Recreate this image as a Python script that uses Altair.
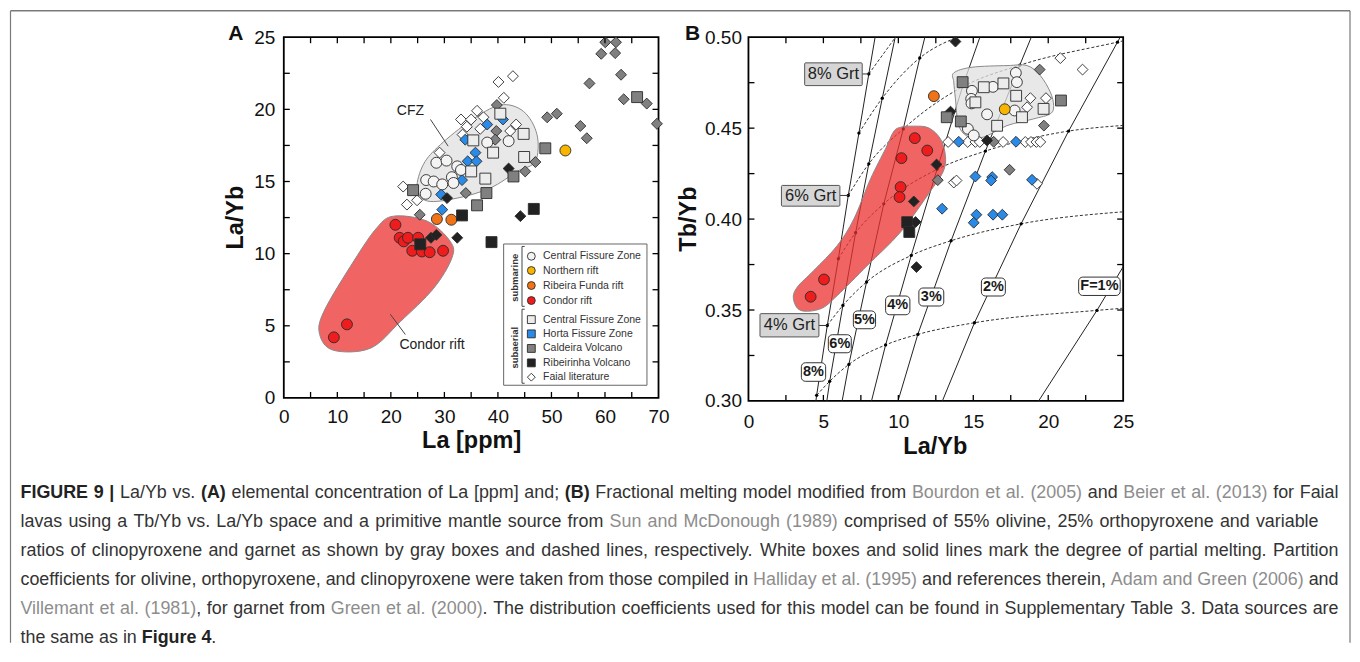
import altair as alt
import pandas as pd

FONT = "Liberation Sans"
INK = "#111111"

A_W, A_H = 375, 361
B_W, B_H = 375, 364

# ---------------- axes / ticks ----------------
A_X_LABELS = [0, 10, 20, 30, 40, 50, 60, 70]
A_X_TICKS = [5, 10, 15, 20, 25, 30, 35, 40, 45, 50, 55, 60, 65]
A_Y_LABELS = [0, 5, 10, 15, 20, 25]
A_Y_TICKS = [2.5, 5, 7.5, 10, 12.5, 15, 17.5, 20, 22.5]
B_X_LABELS = [0, 5, 10, 15, 20, 25]
B_X_TICKS = [2.5, 5, 7.5, 10, 12.5, 15, 17.5, 20, 22.5]
B_Y_LABELS = [0.30, 0.35, 0.40, 0.45, 0.50]
B_Y_TICKS = [0.325, 0.35, 0.375, 0.40, 0.425, 0.45, 0.475]

# ---------------- series styling ----------------
SERIES = ["Central Fissure Zone", "Northern rift", "Ribeira Funda rift", "Condor rift",
          "Central Fissure Zone ", "Horta Fissure Zone", "Caldeira Volcano", "Ribeirinha Volcano",
          "Faial literature", "lit gray", "lit blue", "lit black"]
FILLS = ["#f4f4f4", "#f7b500", "#f07318", "#ee1c1c",
         "#ececec", "#2a8ae8", "#808080", "#222222",
         "#ffffff", "#808080", "#2a8ae8", "#222222"]
SHAPES = ["circle", "circle", "circle", "circle",
          "square", "square", "square", "square",
          "diamond", "diamond", "diamond", "diamond"]
SIZES_A = [120, 120, 120, 120, 160, 160, 160, 160, 75, 75, 75, 75]
SIZES_B = [118, 118, 118, 118, 150, 150, 150, 150, 80, 80, 80, 80]
LEGEND_SERIES = SERIES[:9]
LEGEND_LABELS = ["Central Fissure Zone", "Northern rift", "Ribeira Funda rift", "Condor rift",
                 "Central Fissure Zone", "Horta Fissure Zone", "Caldeira Volcano", "Ribeirinha Volcano",
                 "Faial literature"]
LEGEND_ROW_Y = [9.82, 8.83, 7.79, 6.75, 5.43, 4.44, 3.43, 2.43, 1.44]   # in La/Yb units
LEGEND_SYMBOL_X = 46.24
LEGEND_LABEL_X = 48.42

# ---------------- Panel A data (La ppm, La/Yb) ----------------
A_FAIAL_LIT = [(40.1, 21.9), (42.8, 22.3), (41.1, 20.8), (36.1, 19.9), (33.1, 19.3), (35.0, 19.3),
               (37.3, 19.45), (34.2, 18.8), (36.7, 18.65), (33.4, 18.25), (43.4, 18.95), (42.3, 18.5),
               (29.1, 17.0), (22.3, 14.65), (23.0, 13.4), (24.9, 13.7)]
A_CALDEIRA_LIT = [(60.05, 24.65), (62.05, 24.65), (59.3, 23.85), (61.9, 23.9), (63.0, 22.4),
                  (57.1, 21.8), (63.5, 20.7), (67.8, 20.4), (69.7, 19.0), (49.2, 19.45), (51.0, 19.7),
                  (55.4, 18.85), (56.6, 18.0), (47.0, 16.35), (45.1, 15.7), (39.7, 18.5), (39.5, 17.9),
                  (39.8, 20.3), (34.0, 14.2), (25.4, 12.7)]
A_HORTA_LIT = [(38.0, 18.95), (40.95, 19.3), (33.9, 17.9), (35.8, 17.0), (34.35, 16.4), (36.0, 16.4),
               (33.3, 15.1), (29.4, 14.1), (29.6, 13.05)]
A_RIB_LIT = [(30.5, 13.85), (44.2, 12.6), (27.5, 11.1), (28.5, 11.3), (32.4, 11.1), (42.0, 15.9)]
A_CFZ_SUB = [(28.5, 16.3), (30.4, 16.45), (31.4, 15.3), (31.7, 14.9), (32.4, 16.05), (33.1, 15.8),
             (26.6, 15.1), (28.0, 15.0), (29.6, 14.8), (26.5, 14.15), (38.0, 17.7), (42.0, 17.8)]
A_NORTH = [(52.6, 17.15)]
A_RIBFUNDA = [(28.6, 12.4), (31.3, 12.35)]
A_CONDOR = [(20.85, 12.0), (21.65, 11.1), (22.4, 10.85), (23.2, 11.1), (24.0, 10.2), (25.1, 11.1),
            (25.8, 10.15), (27.25, 10.1), (29.75, 10.2), (9.35, 4.2), (11.8, 5.1)]
A_CFZ_AER = [(35.4, 17.85), (39.1, 17.0), (44.8, 18.3), (44.9, 16.7), (35.0, 15.7), (37.65, 15.2),
             (40.45, 19.7)]
A_HORTA = []
A_CALDEIRA = [(24.15, 14.4), (48.85, 17.3), (42.9, 15.35), (37.85, 14.2), (36.1, 13.35), (66.0, 20.85)]
A_RIBEIRINHA = [(25.5, 10.65), (33.3, 12.65), (38.8, 10.8), (46.7, 13.1)]

A_CFZ_FIELD = [(40.45, 20.3), (44.8, 19.85), (47.3, 18.25), (47.0, 16.4), (43.6, 15.7), (38.6, 14.55),
               (32.4, 13.85), (26.8, 13.65), (24.9, 14.55), (26.1, 16.2), (29.25, 17.55), (34.85, 19.2)]
A_CONDOR_FIELD = [(20.55, 12.6), (26.8, 12.25), (31.1, 10.85), (31.4, 9.7), (28.0, 7.6), (21.8, 5.3),
                  (16.2, 3.45), (9.3, 3.3), (6.7, 4.4), (7.5, 6.0), (13.1, 9.5), (17.4, 11.8)]
A_NOTES = [("CFZ", 23.65, 19.87), ("Condor rift", 27.7, 3.7)]
A_LEADERS = [(27.4, 19.3, 30.7, 17.45), (19.9, 5.8, 22.7, 4.4)]
A_LEGEND_BOX = (41.07, 0.88, 67.84, 10.67)
A_BRACKETS = [(44.5, 6.35, 10.5), (44.5, 1.02, 6.15)]
A_BRACKET_TEXT = [("submarine", 43.25, 8.33), ("subaerial", 43.25, 3.48)]

# ---------------- Panel B data (La/Yb, Tb/Yb) ----------------
B_FAIAL_LIT = [(20.81, 0.4885), (22.29, 0.4822), (13.32, 0.4424), (14.63, 0.4424), (15.14, 0.4424),
               (15.43, 0.4424), (16.99, 0.4424), (18.47, 0.4424), (18.85, 0.4424), (19.21, 0.4424),
               (19.47, 0.4424), (18.81, 0.4665), (19.85, 0.4665), (18.59, 0.4615), (13.7, 0.4201),
               (13.88, 0.4212), (19.25, 0.4194)]
B_CALDEIRA_LIT = [(19.43, 0.4822), (19.71, 0.4514), (17.42, 0.4271), (12.63, 0.4214), (16.36, 0.4425)]
B_HORTA_LIT = [(14.03, 0.4425), (17.85, 0.4425), (15.14, 0.4234), (16.26, 0.4231), (16.19, 0.4212),
               (18.92, 0.4216), (12.92, 0.4057), (15.21, 0.4024), (15.03, 0.3980), (16.32, 0.4024),
               (16.94, 0.4024)]
B_RIB_LIT = [(13.81, 0.4976), (13.48, 0.4591), (12.55, 0.4300), (11.03, 0.4097), (11.21, 0.3736),
             (11.15, 0.3984), (15.92, 0.4432)]
B_CFZ_SUB = [(17.84, 0.4804), (17.91, 0.4753), (16.31, 0.4727), (14.91, 0.4705), (14.86, 0.4661),
             (14.88, 0.4636), (15.92, 0.4576), (17.76, 0.4597), (14.64, 0.4496), (15.03, 0.4460)]
B_NORTH = [(17.1, 0.4604)]
B_RIBFUNDA = [(12.37, 0.4676)]
B_CONDOR = [(11.1, 0.4445), (11.93, 0.4377), (10.21, 0.4335), (10.15, 0.4176), (10.08, 0.4121),
            (5.04, 0.3668), (4.15, 0.3573)]
B_CFZ_AER = [(15.7, 0.4725), (17.01, 0.4746), (17.86, 0.4678), (18.25, 0.4560), (16.59, 0.4513),
             (19.69, 0.4606), (15.14, 0.4642)]
B_HORTA = []
B_CALDEIRA = [(14.29, 0.4753), (13.23, 0.4560), (14.17, 0.4537), (20.85, 0.4652)]
B_RIBEIRINHA = [(10.59, 0.3983), (10.73, 0.3929)]

B_CFZ_FIELD = [(13.7, 0.4804), (14.92, 0.4835), (17.25, 0.4844), (18.59, 0.4844), (19.47, 0.4789),
               (20.14, 0.4698), (20.36, 0.4624), (20.14, 0.4579), (19.03, 0.4551), (17.25, 0.4514),
               (15.7, 0.4451), (14.7, 0.4451), (14.03, 0.4514), (13.81, 0.4661), (13.7, 0.4753)]
B_CONDOR_FIELD = [(10.15, 0.4505), (11.03, 0.4511), (12.01, 0.4502), (12.81, 0.4441), (13.14, 0.4349),
                  (13.01, 0.4265), (12.15, 0.4155), (10.15, 0.3929), (7.93, 0.3745), (5.93, 0.358),
                  (4.82, 0.3507), (3.48, 0.3498), (3.0, 0.3562), (3.26, 0.3626), (4.37, 0.3718),
                  (5.93, 0.3855), (7.04, 0.4002), (8.15, 0.4222), (9.15, 0.4387), (9.68, 0.448)]

# melting degree lines (solid)
B_MELT_LINES = {
    "8%": [(4.50, 0.300), (4.55, 0.3031), (5.26, 0.3415), (6.00, 0.3782), (6.66, 0.4130), (7.37, 0.4473), (8.03, 0.4798), (8.45, 0.500)],
    "6%": [(5.23, 0.300), (5.42, 0.3108), (6.30, 0.3525), (7.15, 0.3925), (8.03, 0.4304), (8.93, 0.4665), (9.79, 0.500)],
    "5%": [(6.25, 0.300), (6.70, 0.3201), (7.88, 0.3654), (9.03, 0.4084), (10.33, 0.4496), (11.43, 0.4886), (11.77, 0.500)],
    "4%": [(8.21, 0.300), (9.15, 0.3308), (10.86, 0.3800), (12.58, 0.4273), (14.28, 0.4727), (15.44, 0.500)],
    "3%": [(9.98, 0.300), (11.30, 0.3366), (13.52, 0.3881), (15.81, 0.4374), (18.10, 0.4846), (18.87, 0.500)],
    "2%": [(12.94, 0.300), (15.08, 0.3430), (18.19, 0.3974), (21.36, 0.4484), (24.62, 0.4973), (24.80, 0.500)],
    "1%": [(19.36, 0.300), (23.25, 0.3498), (25.0, 0.3738)],
}
# garnet-proportion curves (dashed)
B_GRT_CURVES = {
    "g1": [(4.55, 0.3031), (5.42, 0.3108), (6.70, 0.3201), (9.15, 0.3308), (11.30, 0.3366), (15.08, 0.3430), (23.25, 0.3498), (25.0, 0.3510)],
    "g2": [(5.26, 0.3415), (6.30, 0.3525), (7.88, 0.3654), (10.86, 0.3800), (13.52, 0.3881), (18.19, 0.3974), (25.0, 0.4040)],
    "g3": [(6.00, 0.3782), (7.15, 0.3925), (9.03, 0.4084), (12.58, 0.4273), (15.81, 0.4374), (21.36, 0.4484), (25.0, 0.4515)],
    "g4": [(6.66, 0.4130), (8.03, 0.4304), (10.33, 0.4496), (14.28, 0.4727), (18.10, 0.4846), (24.62, 0.4973), (25.0, 0.4980)],
    "g5": [(7.37, 0.4473), (8.93, 0.4665), (11.43, 0.4886), (13.92, 0.500)],
    "g6": [(8.03, 0.4798), (9.81, 0.500)],
}
B_GRT_LABELS = ["8% Grt", "6% Grt", "4% Grt"]
B_GRT_BOX_X = [(3.75, 7.59), (2.20, 6.10), (0.77, 4.70)]
B_GRT_BOX_Y = [(0.4734, 0.4859), (0.4071, 0.4185), (0.3352, 0.3480)]
B_GRT_LEADER = [(7.59, 8.03, 0.4798), (6.10, 6.66, 0.4130), (4.70, 5.26, 0.3415)]
B_F_LABELS = ["8%", "6%", "5%", "4%", "3%", "2%", "F=1%"]
B_F_BOX_X = [(3.53, 5.15), (5.33, 6.86), (7.0, 8.48), (9.15, 10.77), (11.37, 13.03), (15.54, 17.14), (22.03, 24.80)]
B_F_BOX_Y = [(0.3108, 0.3210), (0.3265, 0.3364), (0.3397, 0.3495), (0.3474, 0.3577), (0.3522, 0.3621),
             (0.3577, 0.3676), (0.3580, 0.3681)]

# ---------------- caption ----------------
CAPTION = [
    [("FIGURE 9 |", "b"), (" La/Yb vs. ", "n"), ("(A)", "b"), (" elemental concentration of La [ppm] and; ", "n"),
     ("(B)", "b"), (" Fractional melting model modified from ", "n"), ("Bourdon et al. (2005)", "c"),
     (" and ", "n"), ("Beier et al. (2013)", "c"), (" for Faial", "n")],
    [("lavas using a Tb/Yb vs. La/Yb space and a primitive mantle source from ", "n"),
     ("Sun and McDonough (1989)", "c"), (" comprised of 55% olivine, 25% orthopyroxene and variable", "n")],
    [("ratios of clinopyroxene and garnet as shown by gray boxes and dashed lines, respectively. White boxes and solid lines mark the degree of partial melting. Partition", "n")],
    [("coefficients for olivine, orthopyroxene, and clinopyroxene were taken from those compiled in ", "n"),
     ("Halliday et al. (1995)", "c"), (" and references therein, ", "n"), ("Adam and Green (2006)", "c"), (" and", "n")],
    [("Villemant et al. (1981)", "c"), (", for garnet from ", "n"), ("Green et al. (2000)", "c"),
     (". The distribution coefficients used for this model can be found in Supplementary Table 3. Data sources are", "n")],
    [("the same as in ", "n"), ("Figure 4", "b"), (".", "n")],
]
CAPTION_Y = [493, 522, 551, 580, 609, 638]
CAPTION_X0 = 20
CAPTION_END = [1339, 1319, 1339, 1339, 1339, None]

REG = {' ': 278, '|': 260, '/': 278, '.': 278, ',': 278, ';': 278, '(': 333, ')': 333, '[': 278, ']': 278,
       '%': 889, '-': 333, 'A': 667, 'B': 667, 'C': 722, 'D': 722, 'E': 667, 'F': 611, 'G': 778, 'H': 722,
       'I': 278, 'J': 500, 'K': 667, 'L': 556, 'M': 833, 'N': 722, 'O': 778, 'P': 667, 'Q': 778, 'R': 722,
       'S': 667, 'T': 611, 'U': 722, 'V': 667, 'W': 944, 'X': 667, 'Y': 667, 'Z': 611, 'a': 556, 'b': 556,
       'c': 500, 'd': 556, 'e': 556, 'f': 278, 'g': 556, 'h': 556, 'i': 222, 'j': 222, 'k': 500, 'l': 222,
       'm': 833, 'n': 556, 'o': 556, 'p': 556, 'q': 556, 'r': 333, 's': 500, 't': 278, 'u': 556, 'v': 500,
       'w': 722, 'x': 500, 'y': 500, 'z': 500}
BOLD = {' ': 278, '|': 280, '(': 333, ')': 333, '.': 278, 'A': 722, 'B': 722, 'E': 667, 'F': 611, 'G': 778,
        'I': 278, 'R': 722, 'U': 722, 'e': 556, 'g': 611, 'i': 278, 'r': 389, 'u': 611}


def cw(c, st):
    return (BOLD if st == "b" else REG).get(c, 556)


def line_words(line):
    """split a caption line into words: (text, style, natural x in font units, gaps before)"""
    words, x, gaps, cur, cur_st, cur_x = [], 0.0, 0, "", None, 0.0
    for seg, st in line:
        for c in seg:
            if c == " ":
                if cur:
                    words.append((cur, cur_st, cur_x, gaps))
                    cur = ""
                x += cw(c, st)
                gaps += 1
                continue
            if cur and st != cur_st:
                words.append((cur, cur_st, cur_x, gaps))
                cur = ""
            if not cur:
                cur_st, cur_x = st, x
            cur += c
            x += cw(c, st)
    if cur:
        words.append((cur, cur_st, cur_x, gaps))
    return words, x, gaps


_natural = [line_words(l)[1] for l in CAPTION]
CAP_FS = round(min((e - CAPTION_X0) / (w / 1000.0) for e, w in zip(CAPTION_END, _natural) if e), 2)

# ---------------- page geometry (relative to panel A origin) ----------------
A_ORIGIN = (283.5, 36.5)   # page coords of panel A plot origin
FRAME = (-273.5, -26.5, 1067, 606)
SPACING = 90

# ---------------- helpers ----------------
DUMMY = pd.DataFrame({"d": [0]})


def pts_df(groups):
    rows = []
    for name, pts in groups:
        for x, y in pts:
            rows.append({"x": x, "y": y, "series": name})
    return pd.DataFrame(rows, columns=["x", "y", "series"])


def poly_df(pts):
    return pd.DataFrame({"x": [p[0] for p in pts], "y": [p[1] for p in pts], "i": list(range(len(pts)))})


def make_x(dom, labels, pad, fmt):
    return alt.X("x:Q", scale=alt.Scale(domain=dom, nice=False, zero=False),
                 axis=alt.Axis(values=labels, title=None, ticks=False, domain=False, grid=False,
                               labelFont=FONT, labelFontSize=19, labelColor=INK, labelPadding=pad,
                               labelFlush=False, labelOverlap=False, format=fmt))


def make_y(dom, labels, pad, fmt):
    return alt.Y("y:Q", scale=alt.Scale(domain=dom, nice=False, zero=False),
                 axis=alt.Axis(values=labels, title=None, ticks=False, domain=False, grid=False,
                               labelFont=FONT, labelFontSize=19, labelColor=INK, labelPadding=pad,
                               labelFlush=False, labelOverlap=False, format=fmt))


def tick_layers(X, Y, xv, yv, W, H, L=6):
    dx = pd.DataFrame({"x": xv})
    dy = pd.DataFrame({"y": yv})
    st = dict(color="black", strokeWidth=1.3)
    return [
        alt.Chart(dx).mark_rule(**st).encode(x=X, y=alt.value(H), y2=alt.value(H - L)),
        alt.Chart(dx).mark_rule(**st).encode(x=X, y=alt.value(0), y2=alt.value(L)),
        alt.Chart(dy).mark_rule(**st).encode(y=Y, x=alt.value(0), x2=alt.value(L)),
        alt.Chart(dy).mark_rule(**st).encode(y=Y, x=alt.value(W), x2=alt.value(W - L)),
    ]


def style_encodings(sizes):
    return dict(
        fill=alt.Fill("series:N", scale=alt.Scale(domain=SERIES, range=FILLS), legend=None),
        shape=alt.Shape("series:N", scale=alt.Scale(domain=SERIES, range=SHAPES), legend=None),
        size=alt.Size("series:N", scale=alt.Scale(domain=SERIES, range=sizes), legend=None),
    )


def points_layer(X, Y, df, sizes):
    return alt.Chart(df).mark_point(filled=True, stroke="#2b2b2b", strokeWidth=0.9, opacity=1).encode(
        x=X, y=Y, **style_encodings(sizes))


def blob(X, Y, pts, fill, opacity):
    return alt.Chart(poly_df(pts)).mark_line(
        fill=fill, fillOpacity=opacity, stroke="#8a8a8a", strokeWidth=1, interpolate="cardinal-closed"
    ).encode(x=X, y=Y, order="i:Q")


def vtext(txt, x, y, size, bold=True, angle=0, color=INK):
    return alt.Chart(DUMMY).mark_text(font=FONT, fontSize=size, fontWeight="bold" if bold else "normal",
                                      color=color, angle=angle, align="center", baseline="middle").encode(
        x=alt.value(x), y=alt.value(y), text=alt.value(txt))


# ================= Panel A =================
XA = make_x([0, 70], A_X_LABELS, 10, "d")
YA = make_y([0, 25], A_Y_LABELS, 9, "d")

A_ORDER = [("Faial literature", A_FAIAL_LIT), ("lit gray", A_CALDEIRA_LIT), ("lit blue", A_HORTA_LIT),
           ("lit black", A_RIB_LIT), ("Central Fissure Zone", A_CFZ_SUB), ("Central Fissure Zone ", A_CFZ_AER),
           ("Horta Fissure Zone", A_HORTA), ("Caldeira Volcano", A_CALDEIRA), ("Northern rift", A_NORTH),
           ("Ribeira Funda rift", A_RIBFUNDA), ("Condor rift", A_CONDOR), ("Ribeirinha Volcano", A_RIBEIRINHA)]
a_pts = pts_df(A_ORDER)

# legend drawn in panel coordinates
leg_df = pd.DataFrame({"series": LEGEND_SERIES, "label": LEGEND_LABELS, "y": LEGEND_ROW_Y,
                       "x": [LEGEND_SYMBOL_X] * 9, "lx": [LEGEND_LABEL_X] * 9})
leg_symbols = alt.Chart(leg_df).mark_point(filled=True, stroke="#2b2b2b", strokeWidth=0.9, opacity=1,
                                           size=62).encode(
    x=XA, y=YA,
    fill=alt.Fill("series:N", scale=alt.Scale(domain=SERIES, range=FILLS), legend=None),
    shape=alt.Shape("series:N", scale=alt.Scale(domain=SERIES, range=SHAPES), legend=None))
leg_labels = alt.Chart(leg_df).mark_text(font=FONT, fontSize=10.5, color="#333333", align="left",
                                         baseline="middle").encode(
    x=alt.X("lx:Q", scale=alt.Scale(domain=[0, 70], nice=False, zero=False)), y=YA, text="label:N")

lb = A_LEGEND_BOX
legend_box = alt.Chart(pd.DataFrame({"x": [lb[0]], "y": [lb[1]], "x2": [lb[2]], "y2": [lb[3]]})).mark_rect(
    fill="white", stroke="#666666", strokeWidth=1).encode(x=XA, y=YA, x2="x2:Q", y2="y2:Q")

br_rows = []
for bx, y0, y1 in A_BRACKETS:
    br_rows += [{"x": bx, "y": y0, "x2": bx, "y2": y1},
                {"x": bx, "y": y0, "x2": bx + 0.5, "y2": y0},
                {"x": bx, "y": y1, "x2": bx + 0.5, "y2": y1}]
brackets = alt.Chart(pd.DataFrame(br_rows)).mark_rule(color="#444444", strokeWidth=1).encode(
    x=XA, y=YA, x2="x2:Q", y2="y2:Q")
br_text = alt.Chart(pd.DataFrame({"t": [b[0] for b in A_BRACKET_TEXT], "x": [b[1] for b in A_BRACKET_TEXT],
                                  "y": [b[2] for b in A_BRACKET_TEXT]})).mark_text(
    font=FONT, fontSize=9.5, fontWeight="bold", angle=270, color="#333333", baseline="middle").encode(
    x=XA, y=YA, text="t:N")

leaders = alt.Chart(pd.DataFrame({"x": [l[0] for l in A_LEADERS], "y": [l[1] for l in A_LEADERS],
                                  "x2": [l[2] for l in A_LEADERS], "y2": [l[3] for l in A_LEADERS]})).mark_rule(
    color="#444444", strokeWidth=1).encode(x=XA, y=YA, x2="x2:Q", y2="y2:Q")
notes = alt.Chart(pd.DataFrame({"t": [n[0] for n in A_NOTES], "x": [n[1] for n in A_NOTES],
                                "y": [n[2] for n in A_NOTES]})).mark_text(
    font=FONT, fontSize=14, color="#222222", baseline="middle").encode(x=XA, y=YA, text="t:N")

# frame and caption (page decoration, drawn relative to panel A origin)
fx0, fy0, fx1, fy1 = FRAME
frame_layers = [
    alt.Chart(DUMMY).mark_rule(color="#7a7a7a", strokeWidth=1.5).encode(
        x=alt.value(fx0), x2=alt.value(fx1), y=alt.value(fy0), y2=alt.value(fy0)),
    alt.Chart(DUMMY).mark_rule(color="#7a7a7a", strokeWidth=1.2).encode(
        x=alt.value(fx0), x2=alt.value(fx0), y=alt.value(fy0), y2=alt.value(fy1)),
    alt.Chart(DUMMY).mark_rule(color="#7a7a7a", strokeWidth=1.2).encode(
        x=alt.value(fx1), x2=alt.value(fx1), y=alt.value(fy0), y2=alt.value(fy1)),
]

cap_rows = []
for line, py, end in zip(CAPTION, CAPTION_Y, CAPTION_END):
    words, nat, ngaps = line_words(line)
    extra = (end - CAPTION_X0 - nat * CAP_FS / 1000.0) if end else 0.0
    for txt, st, ux, g in words:
        px = CAPTION_X0 + ux * CAP_FS / 1000.0 + (extra * g / ngaps if ngaps else 0)
        cap_rows.append({"px": px - A_ORIGIN[0], "py": py - A_ORIGIN[1], "t": txt, "st": st})
cap_df = pd.DataFrame(cap_rows)
STYLE = {"n": ("normal", "#333333"), "c": ("normal", "#8d8d8d"), "b": ("bold", "#222222")}
caption_layers = []
for st, (w, col) in STYLE.items():
    caption_layers.append(
        alt.Chart(cap_df[cap_df["st"] == st]).mark_text(
            font=FONT, fontSize=CAP_FS, fontWeight=w, color=col, align="left", baseline="middle").encode(
            x=alt.X("px:Q", scale=None), y=alt.Y("py:Q", scale=None), text="t:N"))

panel_a = alt.layer(
    *frame_layers, *caption_layers,
    blob(XA, YA, A_CFZ_FIELD, "#e0e0e0", 0.75),
    blob(XA, YA, A_CONDOR_FIELD, "#eb3030", 0.75),
    leaders, notes, legend_box, brackets, br_text, leg_symbols, leg_labels,
    points_layer(XA, YA, a_pts, SIZES_A),
    *tick_layers(XA, YA, A_X_TICKS, A_Y_TICKS, A_W, A_H),
    vtext("A", -48, -3, 21),
    vtext("La/Yb", -47.5, A_H / 2, 23.5, angle=270),
    vtext("La [ppm]", 188, 404, 23.5),
).properties(width=A_W, height=A_H)

# ================= Panel B =================
XB = make_x([0, 25], B_X_LABELS, 12, "d")
YB = make_y([0.30, 0.50], B_Y_LABELS, 7, ".2f")

B_ORDER = [("Faial literature", B_FAIAL_LIT), ("lit gray", B_CALDEIRA_LIT), ("lit blue", B_HORTA_LIT),
           ("lit black", B_RIB_LIT), ("Central Fissure Zone", B_CFZ_SUB), ("Central Fissure Zone ", B_CFZ_AER),
           ("Horta Fissure Zone", B_HORTA), ("Caldeira Volcano", B_CALDEIRA), ("Northern rift", B_NORTH),
           ("Ribeira Funda rift", B_RIBFUNDA), ("Condor rift", B_CONDOR), ("Ribeirinha Volcano", B_RIBEIRINHA)]
b_pts = pts_df(B_ORDER)

melt_rows, grt_rows = [], []
for name, pts in B_MELT_LINES.items():
    for i, (x, y) in enumerate(pts):
        melt_rows.append({"x": x, "y": y, "line": name, "i": i})
for name, pts in B_GRT_CURVES.items():
    for i, (x, y) in enumerate(pts):
        grt_rows.append({"x": x, "y": y, "line": name, "i": i})
melt_df = pd.DataFrame(melt_rows)
grt_df = pd.DataFrame(grt_rows)
dots_df = grt_df[(grt_df["x"] < 24.99) & (grt_df["y"] < 0.4999)]

melt_lines = alt.Chart(melt_df).mark_line(color="#222222", strokeWidth=1).encode(
    x=XB, y=YB, detail="line:N", order="i:Q")
grt_lines = alt.Chart(grt_df).mark_line(color="#333333", strokeWidth=1, strokeDash=[3, 2],
                                        interpolate="monotone").encode(
    x=XB, y=YB, detail="line:N", order="i:Q")
dots = alt.Chart(dots_df).mark_point(filled=True, color="black", size=11, opacity=1).encode(x=XB, y=YB)

grt_box_df = pd.DataFrame({"t": B_GRT_LABELS,
                           "x": [b[0] for b in B_GRT_BOX_X], "x2": [b[1] for b in B_GRT_BOX_X],
                           "y": [b[0] for b in B_GRT_BOX_Y], "y2": [b[1] for b in B_GRT_BOX_Y]})
grt_box_df["cx"] = (grt_box_df["x"] + grt_box_df["x2"]) / 2
grt_box_df["cy"] = (grt_box_df["y"] + grt_box_df["y2"]) / 2
grt_boxes = alt.Chart(grt_box_df).mark_rect(fill="#d6d6d6", stroke="#555555", strokeWidth=1,
                                            cornerRadius=1).encode(x=XB, y=YB, x2="x2:Q", y2="y2:Q")
grt_text = alt.Chart(grt_box_df).mark_text(font=FONT, fontSize=16.5, color="#222222", baseline="middle").encode(
    x=alt.X("cx:Q", scale=alt.Scale(domain=[0, 25], nice=False, zero=False)),
    y=alt.Y("cy:Q", scale=alt.Scale(domain=[0.30, 0.50], nice=False, zero=False)), text="t:N")
grt_lead = alt.Chart(pd.DataFrame({"x": [l[0] for l in B_GRT_LEADER], "x2": [l[1] for l in B_GRT_LEADER],
                                   "y": [l[2] for l in B_GRT_LEADER]})).mark_rule(
    color="#333333", strokeWidth=1).encode(x=XB, x2="x2:Q", y=YB)

f_box_df = pd.DataFrame({"t": B_F_LABELS,
                         "x": [b[0] for b in B_F_BOX_X], "x2": [b[1] for b in B_F_BOX_X],
                         "y": [b[0] for b in B_F_BOX_Y], "y2": [b[1] for b in B_F_BOX_Y]})
f_box_df["cx"] = (f_box_df["x"] + f_box_df["x2"]) / 2
f_box_df["cy"] = (f_box_df["y"] + f_box_df["y2"]) / 2
f_boxes = alt.Chart(f_box_df).mark_rect(fill="white", stroke="#333333", strokeWidth=1,
                                        cornerRadius=4).encode(x=XB, y=YB, x2="x2:Q", y2="y2:Q")
f_text = alt.Chart(f_box_df).mark_text(font=FONT, fontSize=14.5, fontWeight="bold", color="#1a1a1a",
                                       baseline="middle").encode(
    x=alt.X("cx:Q", scale=alt.Scale(domain=[0, 25], nice=False, zero=False)),
    y=alt.Y("cy:Q", scale=alt.Scale(domain=[0.30, 0.50], nice=False, zero=False)), text="t:N")

panel_b = alt.layer(
    melt_lines, grt_lines, dots,
    blob(XB, YB, B_CFZ_FIELD, "#e0e0e0", 0.75),
    blob(XB, YB, B_CONDOR_FIELD, "#eb3030", 0.75),
    grt_lead, grt_boxes, grt_text, f_boxes, f_text,
    points_layer(XB, YB, b_pts, SIZES_B),
    *tick_layers(XB, YB, B_X_TICKS, B_Y_TICKS, B_W, B_H),
    vtext("B", -56, -3, 21),
    vtext("Tb/Yb", -59, B_H / 2, 23.5, angle=270),
    vtext("La/Yb", 187, 410, 23.5),
).properties(width=B_W, height=B_H)

chart = alt.HConcatChart(hconcat=[panel_a, panel_b], spacing=SPACING, bounds="flush").resolve_scale(
    fill="independent", shape="independent", size="independent"
).properties(
    padding={"left": 0, "top": 0, "right": 0, "bottom": 0}, background="white"
).configure_view(stroke="black", strokeWidth=1.8)

chart.save("out.html", embed_options={"renderer": "svg", "actions": False})
